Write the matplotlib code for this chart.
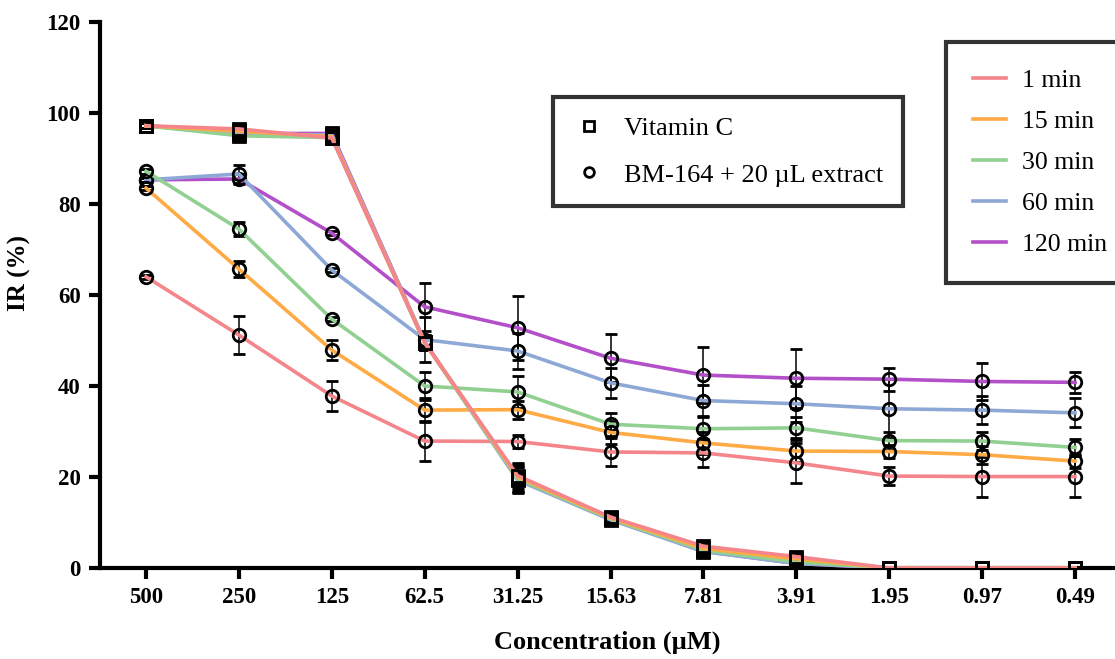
import matplotlib
matplotlib.use("Agg")
import matplotlib.pyplot as plt
from matplotlib.lines import Line2D
import numpy as np

conc_labels = ['500', '250', '125', '62.5', '31.25', '15.63', '7.81', '3.91', '1.95', '0.97', '0.49']
time_labels = ['1 min', '15 min', '30 min', '60 min', '120 min']
colors = ['#F4858A', '#FFAA44', '#92D092', '#8EA8D6', '#B34FC9']

# Vitamin C (squares)
vitc_1 = [97.2, 96.5, 94.5, 49.5, 20.3, 11.2, 4.8, 2.5, 0.0, 0.0, 0.0]
vitc_15 = [97.2, 96.0, 94.8, 49.5, 20.0, 11.0, 4.3, 2.0, 0.0, 0.0, 0.0]
vitc_30 = [97.2, 95.0, 94.6, 49.5, 19.6, 10.8, 3.9, 1.3, 0.0, 0.0, 0.0]
vitc_60 = [97.2, 95.3, 95.2, 49.6, 19.3, 10.6, 3.6, 1.0, 0.0, 0.0, 0.0]
vitc_120 = [97.2, 95.5, 95.5, 49.7, 19.5, 10.7, 3.7, 1.0, 0.0, 0.0, 0.0]
vitc_err = [0.5, 0.6, 0.6, 1.5, 2.8, 0.8, 1.0, 0.6, 0.2, 0.2, 0.2]

# BM-164 + 20 uL extract (circles)
bm_1 = [64.0, 51.2, 37.8, 27.9, 27.8, 25.5, 25.3, 23.1, 20.2, 20.1, 20.1]
bm_1_err = [0.5, 4.2, 3.4, 4.4, 1.5, 3.0, 3.0, 4.4, 1.9, 4.4, 4.6]
bm_15 = [83.5, 65.7, 47.9, 34.7, 34.8, 29.8, 27.5, 25.7, 25.6, 24.9, 23.5]
bm_15_err = [0.5, 1.7, 2.2, 2.6, 2.0, 2.5, 2.5, 2.5, 1.5, 2.0, 1.5]
bm_30 = [87.2, 74.5, 54.7, 40.0, 38.7, 31.6, 30.6, 30.8, 28.0, 27.9, 26.5]
bm_30_err = [0.5, 1.5, 0.5, 3.0, 3.5, 2.5, 2.5, 2.3, 2.0, 2.0, 1.8]
bm_60 = [85.3, 86.6, 65.5, 50.2, 47.7, 40.7, 36.8, 36.1, 35.0, 34.7, 34.1]
bm_60_err = [0.5, 2.0, 0.5, 5.0, 4.0, 3.3, 3.5, 4.0, 6.5, 3.0, 3.2]
bm_120 = [85.3, 85.5, 73.6, 57.4, 52.8, 46.1, 42.4, 41.7, 41.5, 41.0, 40.8]
bm_120_err = [0.5, 1.0, 0.5, 5.3, 7.0, 5.3, 6.2, 6.5, 2.5, 4.0, 2.3]

vitc = [vitc_1, vitc_15, vitc_30, vitc_60, vitc_120]
bm = [bm_1, bm_15, bm_30, bm_60, bm_120]
bm_err = [bm_1_err, bm_15_err, bm_30_err, bm_60_err, bm_120_err]

plt.rcParams['font.family'] = ['Liberation Serif', 'DejaVu Serif']

fig = plt.figure(figsize=(11.15, 6.59), dpi=100)
ax = fig.add_axes([100/1115, 91/659, 1 - 100/1115, 546/659])
x = np.arange(len(conc_labels))

lw = 2.6
for i in [4, 3, 2, 1, 0]:
    ax.errorbar(x, bm[i], yerr=bm_err[i], color=colors[i], lw=lw, ecolor='black',
                elinewidth=1.1, capsize=4.5, capthick=1.1, marker='o', ms=9,
                mfc='none', mec='black', mew=2.0, zorder=3)
for i in [4, 3, 2, 1, 0]:
    ax.errorbar(x, vitc[i], yerr=vitc_err, color=colors[i], lw=lw, ecolor='black',
                elinewidth=1.1, capsize=4.5, capthick=1.1, marker='s', ms=9,
                mfc='none', mec='black', mew=2.0, zorder=3)

ax.set_xlim(-0.495, 10.43)
ax.set_ylim(0, 120)
ax.set_yticks(np.arange(0, 121, 20))
ax.set_xticks(x)
ax.set_xticklabels(conc_labels)
for s in ['top', 'right']:
    ax.spines[s].set_visible(False)
for s in ['left', 'bottom']:
    ax.spines[s].set_linewidth(3)
ax.tick_params(axis='both', width=3, length=8, labelsize=16.5, pad=6)
for lab in ax.get_xticklabels() + ax.get_yticklabels():
    lab.set_fontweight('bold')

ax.set_xlabel('Concentration (µM)', fontsize=19, fontweight='bold', labelpad=16)
ax.set_ylabel('IR (%)', fontsize=18, fontweight='bold')
ax.yaxis.set_label_coords(-0.068, 0.54)

# marker legend
h1 = [Line2D([], [], ls='none', marker='s', ms=7, mfc='none', mec='black', mew=2),
      Line2D([], [], ls='none', marker='o', ms=7, mfc='none', mec='black', mew=2)]
leg1 = ax.legend(h1, ['Vitamin C', 'BM-164 + 20 µL extract'], loc='upper left',
                 bbox_to_anchor=((553 - 100) / 1015, (568 - 97) / 546), fontsize=19,
                 frameon=True, fancybox=False, edgecolor='black', borderpad=0.75,
                 labelspacing=0.87, handlelength=1.2, handletextpad=0.75, borderaxespad=0)
leg1.get_frame().set_linewidth(3)
ax.add_artist(leg1)

# time legend
h2 = [Line2D([], [], color=c, lw=2.6) for c in colors]
leg2 = ax.legend(h2, time_labels, loc='upper left',
                 bbox_to_anchor=((946 - 100) / 1015, (568 - 42) / 546), fontsize=18.5,
                 frameon=True, fancybox=False, edgecolor='black', borderpad=1.05,
                 labelspacing=0.7, handlelength=1.3, handletextpad=0.6, borderaxespad=0)
leg2.get_frame().set_linewidth(3)

fig.savefig('out.png', dpi=100)
